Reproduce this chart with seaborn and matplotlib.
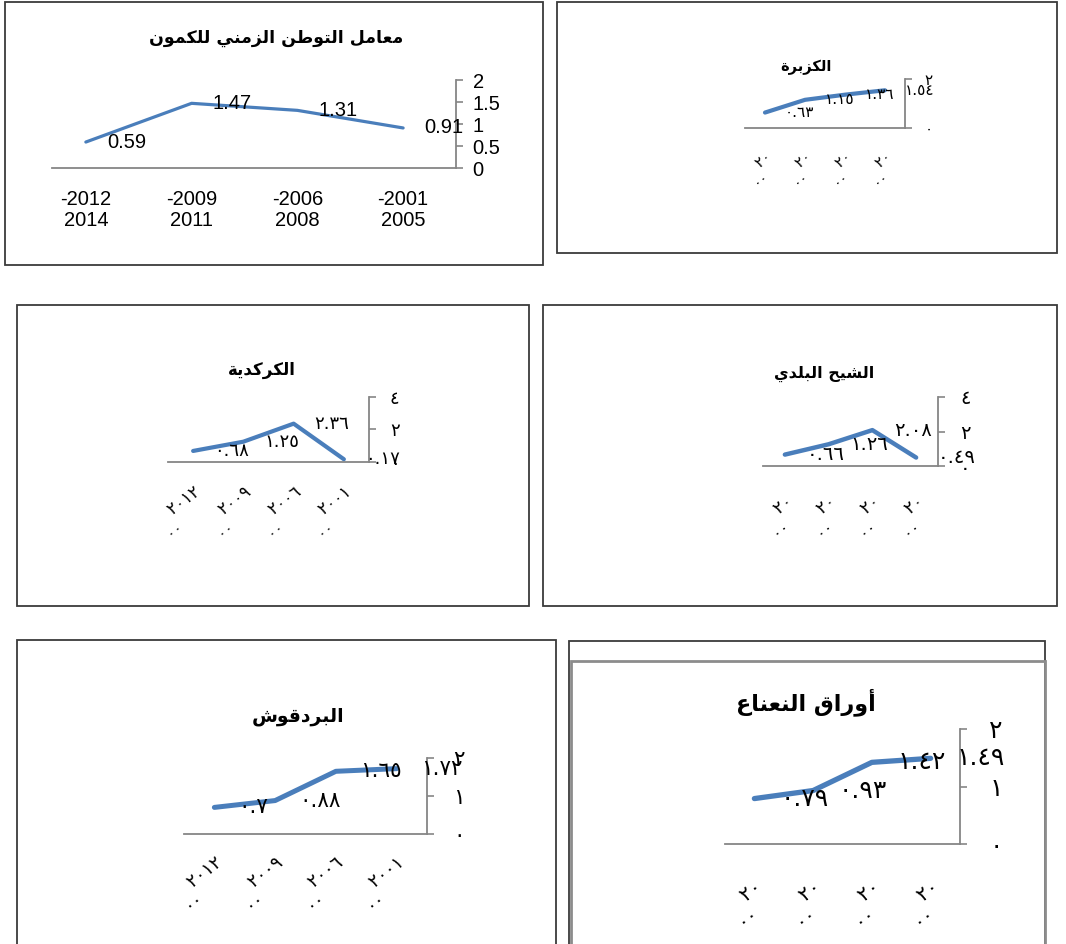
import numpy as np
import matplotlib
matplotlib.use("Agg")
import matplotlib.pyplot as plt
import matplotlib.transforms as mtransforms
import seaborn as sns
from matplotlib.patches import Rectangle

sns.set_theme(style="white")
plt.rcParams['font.family'] = ['DejaVu Sans']

# ---------------- data ----------------
periods_latin = ["-2012\n2014", "-2009\n2011", "-2006\n2008", "-2001\n2005"]
periods_ar_long = ["٢٠١٢\n٠٠", "٢٠٠٩\n٠٠", "٢٠٠٦\n٠٠", "٢٠٠١\n٠٠"]
periods_ar_short = ["٢٠\n٠٠", "٢٠\n٠٠", "٢٠\n٠٠", "٢٠\n٠٠"]

cumin = [0.59, 1.47, 1.31, 0.91]
coriander = [0.63, 1.15, 1.36, 1.54]
hibiscus = [0.68, 1.25, 2.36, 0.17]
wormwood = [0.66, 1.26, 2.08, 0.49]
marjoram = [0.70, 0.88, 1.65, 1.72]
mint = [0.79, 0.93, 1.42, 1.49]

title_cumin = "معامل التوطن الزمني للكمون"
title_coriander = "الكزبرة"
title_hibiscus = "الكركدية"
title_wormwood = "الشيح البلدي"
title_marjoram = "البردقوش"
title_mint = "أوراق النعناع"

# ---------------- helpers ----------------
FORMS = {
    'ا': ('\uFE8D', '\uFE8E', None, None),
    'أ': ('\uFE83', '\uFE84', None, None),
    'ب': ('\uFE8F', '\uFE90', '\uFE91', '\uFE92'),
    'ة': ('\uFE93', '\uFE94', None, None),
    'ت': ('\uFE95', '\uFE96', '\uFE97', '\uFE98'),
    'ح': ('\uFEA1', '\uFEA2', '\uFEA3', '\uFEA4'),
    'د': ('\uFEA9', '\uFEAA', None, None),
    'ر': ('\uFEAD', '\uFEAE', None, None),
    'ز': ('\uFEAF', '\uFEB0', None, None),
    'ش': ('\uFEB5', '\uFEB6', '\uFEB7', '\uFEB8'),
    'ط': ('\uFEC1', '\uFEC2', '\uFEC3', '\uFEC4'),
    'ع': ('\uFEC9', '\uFECA', '\uFECB', '\uFECC'),
    'ق': ('\uFED5', '\uFED6', '\uFED7', '\uFED8'),
    'ك': ('\uFED9', '\uFEDA', '\uFEDB', '\uFEDC'),
    'ل': ('\uFEDD', '\uFEDE', '\uFEDF', '\uFEE0'),
    'م': ('\uFEE1', '\uFEE2', '\uFEE3', '\uFEE4'),
    'ن': ('\uFEE5', '\uFEE6', '\uFEE7', '\uFEE8'),
    'و': ('\uFEED', '\uFEEE', None, None),
    'ي': ('\uFEF1', '\uFEF2', '\uFEF3', '\uFEF4'),
}


def shape(s):
    out = []
    n = len(s)
    for i, c in enumerate(s):
        if c not in FORMS:
            out.append(c)
            continue
        prev = s[i - 1] if i > 0 else None
        nxt = s[i + 1] if i + 1 < n else None
        jp = prev in FORMS and FORMS[prev][2] is not None
        jn = FORMS[c][2] is not None and nxt in FORMS
        iso, fin, ini, med = FORMS[c]
        if jp and jn:
            g = med
        elif jp:
            g = fin
        elif jn:
            g = ini
        else:
            g = iso
        out.append(g)
    return ''.join(reversed(out))


AR_DIGITS = str.maketrans('0123456789', '٠١٢٣٤٥٦٧٨٩')


def to_ar(v):
    return f"{v:g}".translate(AR_DIGITS)


W, H = 1066, 944
BLUE = '#4a7ebb'
AXC = '#868686'
PT = 72 / 100.0  # points per pixel

fig = plt.figure(figsize=(W / 100, H / 100), dpi=100)
fig.patch.set_facecolor('white')


def frame(l, t, r, b, color='#3a3a3a', lw=1.3):
    fig.add_artist(Rectangle((l / W, 1 - b / H), (r - l) / W, (b - t) / H,
                             transform=fig.transFigure, fill=False,
                             ec=color, lw=lw))


def panel(plot, values, cats, ymax, yticks, ytlabels, title, txy, tsize,
          lw, lsize, latin=False, rot=0, xlim=(-0.5, 3.5), xpad=8,
          ypad=10, yfs=12, xfs=12, off=20, xshift=-6):
    l, r, t, b = plot
    ax = fig.add_axes([l / W, 1 - b / H, (r - l) / W, (b - t) / H])
    ax.set_facecolor('none')
    xs = np.arange(len(values))
    sns.lineplot(x=xs, y=values, ax=ax, color=BLUE, lw=lw, sort=False)
    ax.set_xlim(*xlim)
    ax.set_ylim(0, ymax)
    for s in ['left', 'top']:
        ax.spines[s].set_visible(False)
    for s in ['right', 'bottom']:
        ax.spines[s].set_color(AXC)
        ax.spines[s].set_linewidth(1.3)
    ax.yaxis.tick_right()
    ax.set_yticks(yticks, ytlabels)
    ax.tick_params(axis='y', which='major', direction='out', length=5,
                   width=1.2, color=AXC, pad=ypad, labelsize=yfs,
                   labelcolor='black')
    fam = ['Liberation Sans', 'DejaVu Sans'] if latin else ['DejaVu Sans']
    ax.set_xticks(xs)
    if rot:
        shown = ["   " + c for c in cats]
        labs = ax.set_xticklabels(shown, rotation=rot, rotation_mode='anchor',
                                  ha='right', va='top', multialignment='left',
                                  fontsize=xfs, family=fam, linespacing=0.85)
        sh = mtransforms.ScaledTranslation(xshift / 100, 0,
                                           fig.dpi_scale_trans)
        for lab in labs:
            lab.set_transform(lab.get_transform() + sh)
    else:
        ax.set_xticklabels(cats, fontsize=xfs, family=fam, linespacing=1.1)
    ax.tick_params(axis='x', which='major', length=0, pad=xpad,
                   labelcolor='black')
    bounds = [v for v in np.arange(-0.5, len(values) + 0.5, 1.0)
              if xlim[0] - 1e-9 <= v <= xlim[1] + 1e-9]
    ax.set_xticks(bounds, minor=True)
    ax.tick_params(axis='x', which='minor', direction='out', length=6,
                   width=1.2, color=AXC)
    for lab in ax.get_yticklabels():
        lab.set_family(fam)
    ax.set_xlabel('')
    ax.set_ylabel('')
    ax.grid(False)
    for xi, v in zip(xs, values):
        txt = f"{v:.2f}" if latin else to_ar(v)
        ax.annotate(txt, (xi, v), xytext=(off * PT, 0),
                    textcoords='offset points', ha='left', va='center',
                    fontsize=lsize, family=fam, annotation_clip=False,
                    color='black')
    fig.text(txy[0] / W, 1 - txy[1] / H, shape(title), ha='center',
             va='center', fontsize=tsize, weight='bold', color='black')
    return ax


# frames
frame(5, 2, 543, 265)
frame(557, 2, 1057, 253)
frame(17, 305, 529, 606)
frame(543, 305, 1057, 606)
frame(17, 640, 556, 990)
frame(569, 641, 1045, 990)
frame(571, 661, 1045, 990, color='#8c8c8c', lw=2.0)

# panel 1 : cumin
panel((52, 456, 80, 168), cumin, periods_latin, 2, [0, 0.5, 1, 1.5, 2],
      ["0", "0.5", "1", "1.5", "2"], title_cumin, (276, 38), 12.5,
      2.3, 14.5, latin=True, xlim=(-0.32, 3.5), xpad=16, ypad=7, yfs=14.5,
      xfs=14.5, off=21)

# panel 2 : coriander
panel((745, 905, 79, 128), coriander, periods_ar_short, 2, [0, 2],
      ["٠", "٢"], title_coriander, (806, 67), 10.5, 3.0, 11, rot=38,
      xpad=15, ypad=9, yfs=11, xfs=10.5, xshift=-2)

# panel 3 : hibiscus
panel((168, 369, 397, 462), hibiscus, periods_ar_long, 4, [0, 2, 4],
      ["٠", "٢", "٤"], title_hibiscus, (262, 370), 12, 3.0, 13, rot=37,
      xpad=15, ypad=10, yfs=13, xfs=12, off=21, xshift=-5)

# panel 4 : wormwood
panel((763, 938, 397, 466), wormwood, periods_ar_short, 4, [0, 2, 4],
      ["٠", "٢", "٤"], title_wormwood, (824, 374), 11.5, 3.2, 14, rot=38,
      xpad=19, ypad=11, yfs=14, xfs=12.5, off=22, xshift=-8)

# panel 5 : marjoram
panel((184, 427, 758, 834), marjoram, periods_ar_long, 2, [0, 1, 2],
      ["٠", "١", "٢"], title_marjoram, (298, 717), 13.5, 3.6, 15.5, rot=38,
      xpad=14, ypad=14, yfs=15.5, xfs=13, off=24, xshift=-6)

# panel 6 : mint
panel((725, 960, 729, 844), mint, periods_ar_short, 2, [0, 1, 2],
      ["٠", "١", "٢"], title_mint, (806, 702), 16, 3.8, 18, rot=38,
      xpad=24, ypad=16, yfs=18, xfs=14.5, off=26, xshift=-6)

fig.savefig("out.png", dpi=100, facecolor='white')
